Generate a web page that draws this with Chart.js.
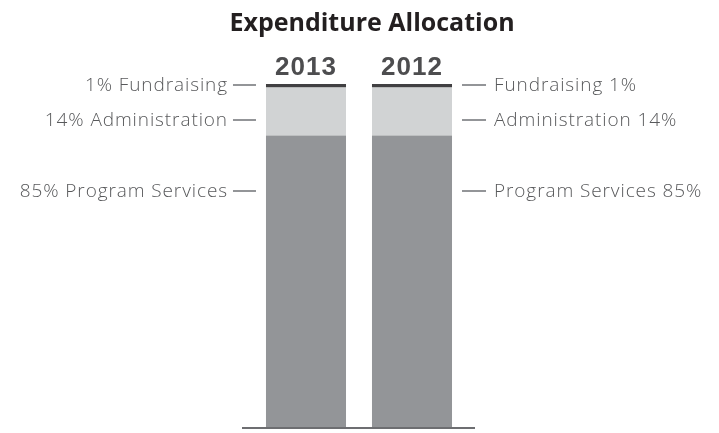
<!DOCTYPE html>
<html>
<head>
<meta charset="utf-8">
<script src="https://cdn.jsdelivr.net/npm/chart.js@4"></script>
<style>
  html, body { margin: 0; padding: 0; background: #fff; }
  #wrap { width: 719px; height: 433px; }
</style>
</head>
<body>
<div id="wrap"><canvas id="chart"></canvas></div>
<script>
const years = ['2013', '2012']
const categories = ['Program Services', 'Administration', 'Fundraising']
const values2013 = [85, 14, 1]
const values2012 = [85, 14, 1]
const colors = ['#939598', '#d1d3d4', '#414042']
// where each side label sits, in axis units (0 - 100)
const labelAt = [68.8, 89.5, 99.7]

const datasets = categories.map((name, i) => ({
  label: name,
  data: [values2013[i], values2012[i]],
  backgroundColor: colors[i],
  borderWidth: 0,
  barPercentage: 0.755,
  categoryPercentage: 1,
}))

const extras = {
  id: 'extras',
  afterDatasetsDraw(chart) {
    const { ctx, chartArea, scales } = chart
    const x = scales.x
    const y = scales.y
    ctx.save()

    // baseline
    const y0 = y.getPixelForValue(0)
    ctx.strokeStyle = '#6d6e71'
    ctx.lineWidth = 2
    ctx.beginPath()
    ctx.moveTo(chartArea.left - 11, y0 + 1)
    ctx.lineTo(chartArea.right + 10, y0 + 1)
    ctx.stroke()

    // title
    ctx.fillStyle = '#231f20'
    ctx.font = 'bold 25px "Open Sans", Lato, sans-serif'
    ctx.textAlign = 'center'
    ctx.textBaseline = 'alphabetic'
    ctx.fillText('Expenditure Allocation', 372, 31)

    // years
    ctx.fillStyle = '#4d4d4f'
    ctx.font = 'bold 26px "Liberation Sans", Arial, sans-serif'
    ctx.letterSpacing = '1px'
    years.forEach((yr, i) => {
      ctx.fillText(yr, x.getPixelForValue(i), 75)
    })

    // side labels
    ctx.font = '300 19px "Open Sans", sans-serif'
    ctx.letterSpacing = '0.9px'
    ctx.textBaseline = 'middle'
    const meta0 = chart.getDatasetMeta(0).data[0]
    const meta1 = chart.getDatasetMeta(0).data[1]
    const leftEdge = meta0.x - meta0.width / 2
    const rightEdge = meta1.x + meta1.width / 2
    categories.forEach((name, i) => {
      const py = Math.round(y.getPixelForValue(labelAt[i]))
      ctx.strokeStyle = '#939598'
      ctx.lineWidth = 2
      ctx.beginPath()
      ctx.moveTo(leftEdge - 33, py)
      ctx.lineTo(leftEdge - 10, py)
      ctx.moveTo(rightEdge + 10, py)
      ctx.lineTo(rightEdge + 34, py)
      ctx.stroke()

      ctx.fillStyle = '#58595b'
      ctx.textAlign = 'right'
      ctx.fillText(values2013[i] + '% ' + name, leftEdge - 38, py + 1)
      ctx.textAlign = 'left'
      ctx.fillText(name + ' ' + values2012[i] + '%', rightEdge + 42, py + 1)
    })
    ctx.restore()
  },
}

new Chart(document.getElementById('chart'), {
  type: 'bar',
  data: { labels: years, datasets },
  options: {
    responsive: true,
    maintainAspectRatio: false,
    animation: false,
    devicePixelRatio: 1,
    layout: { padding: { top: 84, bottom: 6, left: 253, right: 254 } },
    plugins: {
      legend: { display: false },
      title: { display: false },
      tooltip: { enabled: false },
    },
    scales: {
      x: { stacked: true, display: false },
      y: { stacked: true, display: false, min: 0, max: 100 },
    },
  },
  plugins: [extras],
})
</script>
</body>
</html>
